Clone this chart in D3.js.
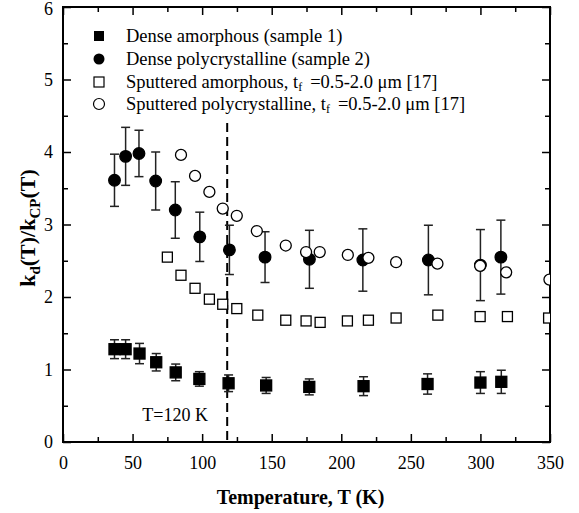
<!DOCTYPE html>
<html><head><meta charset="utf-8">
<script src="https://cdn.jsdelivr.net/npm/d3@7"></script>
<style>
body{margin:0;background:#fff}
svg text{font-family:"Liberation Serif","Times New Roman",Times,serif}
</style>
</head><body><svg id="c" width="579" height="513"></svg>
<script>
// Dense amorphous (sample 1)
const denseAmT   = [37, 45, 55, 67, 81, 98, 119, 146, 177, 216, 262, 300, 315];
const denseAmK   = [1.28, 1.28, 1.22, 1.10, 0.96, 0.87, 0.81, 0.78, 0.76, 0.77, 0.80, 0.82, 0.83];
const denseAmErr = [0.13, 0.13, 0.14, 0.12, 0.115, 0.10, 0.115, 0.11, 0.11, 0.13, 0.14, 0.15, 0.16];
// Dense polycrystalline (sample 2)
const densePolyT   = [37, 45, 54.6, 66.6, 80.7, 98.3, 119.6, 145.2, 177.1, 215.5, 262.6, 300, 314.7];
const densePolyK   = [3.61, 3.94, 3.98, 3.60, 3.20, 2.83, 2.65, 2.55, 2.52, 2.51, 2.51, 2.44, 2.55];
const densePolyErr = [0.36, 0.40, 0.32, 0.40, 0.39, 0.34, 0.34, 0.35, 0.40, 0.43, 0.48, 0.49, 0.51];
// Sputtered amorphous films [17]
const sputAmT = [75, 84.8, 94.9, 105.2, 114.8, 124.9, 140, 160.1, 174.7, 184.8, 204.4, 219.5, 239.4, 269.4, 299.8, 319.4, 349];
const sputAmK = [2.55, 2.30, 2.12, 1.97, 1.90, 1.84, 1.75, 1.68, 1.67, 1.65, 1.67, 1.68, 1.71, 1.75, 1.73, 1.73, 1.71];
// Sputtered polycrystalline films [17]
const sputPolyT = [84.8, 94.9, 105.2, 114.8, 124.9, 139.3, 160.1, 174.7, 184.5, 204.7, 219.5, 239.4, 269.1, 299.8, 318.5, 349.6];
const sputPolyK = [3.96, 3.67, 3.45, 3.22, 3.12, 2.91, 2.71, 2.62, 2.62, 2.58, 2.54, 2.48, 2.46, 2.43, 2.34, 2.24];

const xTicks = [0, 50, 100, 150, 200, 250, 300, 350];
const xMinor = [25, 75, 125, 175, 225, 275, 325];
const yTicks = [0, 1, 2, 3, 4, 5, 6];
const yMinor = [0.5, 1.5, 2.5, 3.5, 4.5, 5.5];
const transitionT = 118;
const transitionTop = 4.4;

const legendLabels = [
  "Dense amorphous (sample 1)",
  "Dense polycrystalline (sample 2)",
  "Sputtered amorphous, t|f|=0.5-2.0 μm [17]",
  "Sputtered polycrystalline, t|f|=0.5-2.0 μm [17]"
];

const L = 63, R = 550, T = 7, B = 442;
const svg = d3.select("#c");
const x = d3.scaleLinear().domain([0, 350]).range([L, R]);
const y = d3.scaleLinear().domain([0, 6]).range([B, T]);

svg.append("defs").append("clipPath").attr("id", "plot")
  .append("rect").attr("x", L).attr("y", T).attr("width", R - L).attr("height", B - T);

// axes: ticks inward on all four sides
function axisGroup(axis, tx, ty) {
  const g = svg.append("g").attr("transform", `translate(${tx},${ty})`).call(axis);
  g.attr("font-family", null);
  g.select(".domain").remove();
  g.selectAll("line").attr("stroke", "#000").attr("stroke-width", 1.5);
  g.selectAll("text").attr("font-size", 18).attr("fill", "#000");
  return g;
}
axisGroup(d3.axisBottom(x).tickValues(xTicks).tickSize(-8).tickPadding(14).tickFormat(d3.format("d")), 0, B);
axisGroup(d3.axisBottom(x).tickValues(xMinor).tickSize(-5).tickFormat(""), 0, B);
axisGroup(d3.axisTop(x).tickValues(xTicks).tickSize(-8).tickFormat(""), 0, T);
axisGroup(d3.axisTop(x).tickValues(xMinor).tickSize(-5).tickFormat(""), 0, T);
const yAxis = axisGroup(d3.axisLeft(y).tickValues(yTicks).tickSize(-8).tickPadding(10).tickFormat(d3.format("d")), L, 0);
yAxis.selectAll("text").attr("dy", (d) => d === 6 ? "0.4em" : "0.32em");
axisGroup(d3.axisLeft(y).tickValues(yMinor).tickSize(-5).tickFormat(""), L, 0);
axisGroup(d3.axisRight(y).tickValues(yTicks).tickSize(-8).tickFormat(""), R, 0);
axisGroup(d3.axisRight(y).tickValues(yMinor).tickSize(-5).tickFormat(""), R, 0);

svg.append("rect").attr("x", L).attr("y", T).attr("width", R - L).attr("height", B - T)
  .attr("fill", "none").attr("stroke", "#000").attr("stroke-width", 2);

// transition temperature marker
svg.append("line")
  .attr("x1", x(transitionT)).attr("x2", x(transitionT))
  .attr("y1", y(transitionTop)).attr("y2", y(0))
  .attr("stroke", "#000").attr("stroke-width", 2).attr("stroke-dasharray", "9,5");
svg.append("text").attr("x", x(57)).attr("y", 421)
  .attr("font-size", 18).text("T=120 K");

const plot = svg.append("g").attr("clip-path", "url(#plot)");

function errorBars(ts, ks, es) {
  const g = plot.append("g").attr("stroke", "#222").attr("stroke-width", 1.5);
  ts.forEach((t, i) => {
    const cx = x(t), y1 = y(ks[i] + es[i]), y2 = y(ks[i] - es[i]);
    g.append("line").attr("x1", cx).attr("x2", cx).attr("y1", y1).attr("y2", y2);
    g.append("line").attr("x1", cx - 4.5).attr("x2", cx + 4.5).attr("y1", y1).attr("y2", y1);
    g.append("line").attr("x1", cx - 4.5).attr("x2", cx + 4.5).attr("y1", y2).attr("y2", y2);
  });
}
function squares(ts, ks, filled, size) {
  plot.append("g").selectAll("rect").data(ts).join("rect")
    .attr("x", d => x(d) - size / 2).attr("y", (d, i) => y(ks[i]) - size / 2)
    .attr("width", size).attr("height", size)
    .attr("fill", filled ? "#000" : "#fff").attr("stroke", "#000").attr("stroke-width", 1.3);
}
function circles(ts, ks, filled, r) {
  plot.append("g").selectAll("circle").data(ts).join("circle")
    .attr("cx", d => x(d)).attr("cy", (d, i) => y(ks[i])).attr("r", r)
    .attr("fill", filled ? "#000" : "#fff").attr("stroke", "#000").attr("stroke-width", 1.3);
}

errorBars(denseAmT, denseAmK, denseAmErr);
errorBars(densePolyT, densePolyK, densePolyErr);
squares(denseAmT, denseAmK, true, 11);
circles(densePolyT, densePolyK, true, 5.8);
squares(sputAmT, sputAmK, false, 10);
circles(sputPolyT, sputPolyK, false, 5.5);

// legend
const legY = [36, 59, 82, 104];
const legX = 99;
const leg = svg.append("g");
leg.append("rect").attr("x", legX - 5).attr("y", legY[0] - 5).attr("width", 10).attr("height", 10).attr("fill", "#000");
leg.append("circle").attr("cx", legX).attr("cy", legY[1]).attr("r", 5.5).attr("fill", "#000");
leg.append("rect").attr("x", legX - 5).attr("y", legY[2] - 5).attr("width", 10).attr("height", 10)
  .attr("fill", "#fff").attr("stroke", "#000").attr("stroke-width", 1.2);
leg.append("circle").attr("cx", legX).attr("cy", legY[3]).attr("r", 5.5)
  .attr("fill", "#fff").attr("stroke", "#000").attr("stroke-width", 1.2);
legendLabels.forEach((lab, i) => {
  const t = leg.append("text").attr("x", 126).attr("y", legY[i] + 6).attr("font-size", 18.5);
  const parts = lab.split("|");
  t.append("tspan").text(parts[0]);
  if (parts.length > 1) {
    t.append("tspan").attr("dy", 3).attr("font-size", 12).text(parts[1]);
    t.append("tspan").attr("dy", -3).attr("dx", 8).text(parts[2]);
  }
});

// axis titles
svg.append("text").attr("x", (L + R) / 2 - 6).attr("y", 504).attr("text-anchor", "middle")
  .attr("font-size", 20).attr("font-weight", "bold")
  .text("Temperature, T (K)");
const yl = svg.append("text").attr("transform", "translate(35,228) rotate(-90)")
  .attr("text-anchor", "middle").attr("font-size", 22).attr("font-weight", "bold");
yl.append("tspan").text("k");
yl.append("tspan").attr("dy", 5).attr("font-size", 15).text("d");
yl.append("tspan").attr("dy", -5).text("(T)/k");
yl.append("tspan").attr("dy", 5).attr("font-size", 15).text("CP");
yl.append("tspan").attr("dy", -5).text("(T)");
</script></body></html>
